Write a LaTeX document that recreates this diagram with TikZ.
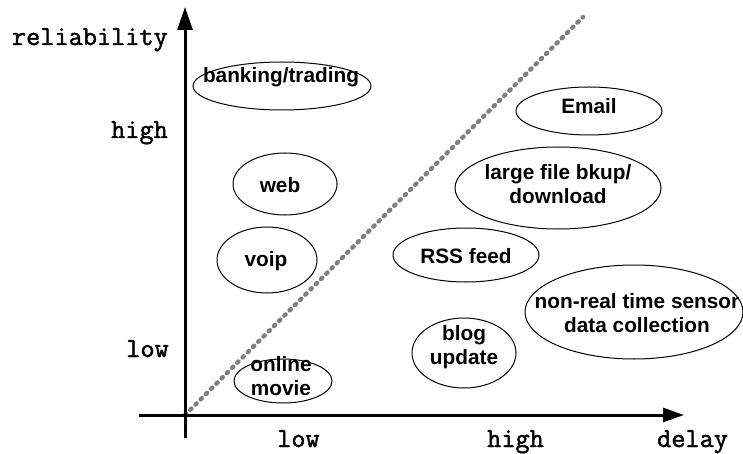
\documentclass[tikz,border=0pt]{standalone}
\usepackage{fontspec}
\newfontfamily\labelfont{Liberation Sans}
\newfontfamily\axisfont{Latin Modern Mono}[FakeBold=1.6]
\usetikzlibrary{arrows.meta}

\begin{document}
\begin{tikzpicture}[x=1pt, y=-1pt,
        app/.style = {font=\labelfont\bfseries\fontsize{20.8}{24}\selectfont,
            align=center, inner sep=0pt},
        bubble/.style = {line width=1pt},
        axislabel/.style = {font=\axisfont\bfseries\fontsize{27.5}{30}\selectfont,
            inner sep=0pt}]
        \useasboundingbox (0, 0) rectangle (743, 454);
        % axes
        \coordinate (origin) at (185, 415);
        \coordinate (ytip) at (185, 7);
        \coordinate (ybot) at (185, 438);
        \coordinate (xtip) at (684, 415);
        \coordinate (xleft) at (139, 415);
        \coordinate (split) at (583, 17);
        \draw [gray, line width=4.5pt, line cap=round,
            dash pattern=on 1.6pt off 5.8pt] (origin) -- (split);
        \draw [line width=3pt, -{Triangle[length=23pt, width=15pt]}]
            (ybot) -- (ytip);
        \draw [line width=3pt, -{Triangle[length=21pt, width=14pt]}]
            (xleft) -- (xtip);
        \node [axislabel, anchor=base east] (rel) at (168, 45) {reliability};
        \node [axislabel, anchor=base east] (rhigh) at (168, 138) {high};
        \node [axislabel, anchor=base east] (rlow) at (169, 357) {low};
        \node [axislabel, anchor=base west] (dlow) at (277, 447) {low};
        \node [axislabel, anchor=base west] (dhigh) at (487, 447) {high};
        \node [axislabel, anchor=base west] (delay) at (657, 447) {delay};
        % applications
        \draw [bubble] (282, 86) ellipse [x radius=89, y radius=24];
        \node [app] (bank) at (281, 77) {banking/trading};
        \draw [bubble] (285, 184) ellipse [x radius=52, y radius=31];
        \node [app] (web) at (280, 185) {web};
        \draw [bubble] (267, 260) ellipse [x radius=50, y radius=33];
        \node [app] (voip) at (266, 261) {voip};
        \draw [bubble] (283, 381) ellipse [x radius=49, y radius=22];
        \node [app] (movie) at (281, 376) {online\\movie};
        \draw [bubble] (589, 111) ellipse [x radius=73, y radius=24];
        \node [app] (email) at (589, 106) {Email};
        \draw [bubble] (558, 188) ellipse [x radius=103, y radius=41];
        \node [app] (bkup) at (558, 184) {large file bkup/\\download};
        \draw [bubble] (466, 255) ellipse [x radius=73, y radius=27];
        \node [app] (rss) at (466, 256) {RSS feed};
        \draw [bubble] (634, 312) ellipse [x radius=109, y radius=47];
        \node [app] (sensor) at (637, 313) {non-real time sensor\\data collection};
        \draw [bubble] (464, 353) ellipse [x radius=52, y radius=35];
        \node [app] (blog) at (464, 347) {blog\\update};
    \end{tikzpicture}
\end{document}
